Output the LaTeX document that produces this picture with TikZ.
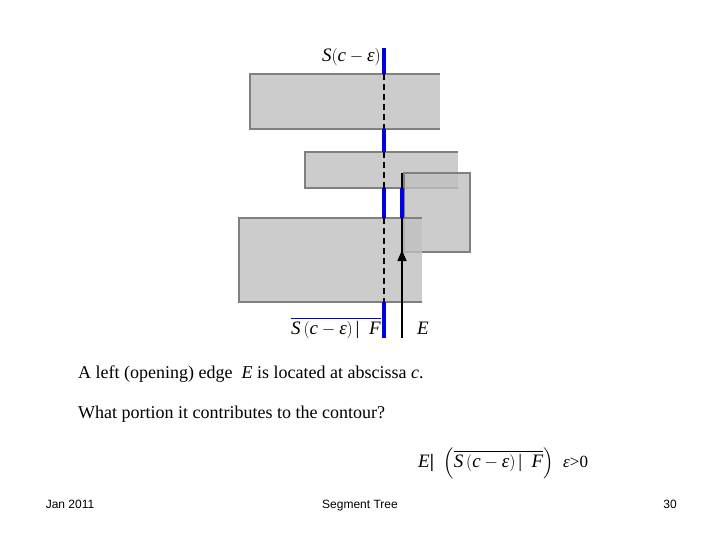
\documentclass[tikz,border=0pt]{standalone}
\usepackage{amsmath}
\usepackage{fontspec}
\setmainfont{Liberation Serif}
\newfontfamily\arial{Liberation Sans}
\usetikzlibrary{arrows.meta}
\begin{document}
\begin{tikzpicture}[x=1pt,y=-1pt,
  rectfill/.style={fill=black!25,fill opacity=0.8},
  rectedge/.style={draw=black!50,line width=2.5pt},
  blueline/.style={blue!90!black,line width=4pt},
  dashline/.style={black,line width=2.5pt,dash pattern=on 6pt off 4pt},
  lbl/.style={font=\fontsize{19}{21}\selectfont,inner sep=0pt},
  body/.style={font=\fontsize{18}{20}\selectfont,anchor=base west,inner sep=0pt},
  foot/.style={font=\arial\fontsize{12}{14}\selectfont,inner sep=0pt,anchor=base}]
\useasboundingbox (0,0) rectangle (720,540);
% rectangles
\fill[rectfill] (250,74) rectangle (440,129);
\draw[rectedge] (440,74) -- (250,74) -- (250,129) -- (440,129);
\fill[rectfill] (305,152) rectangle (458,188);
\draw[rectedge] (458,152) -- (305,152) -- (305,188) -- (458,188);
\fill[rectfill] (404,173) rectangle (470,252);
\draw[rectedge] (404,173) rectangle (470,252);
\fill[rectfill] (239,218) rectangle (422,302);
\draw[rectedge] (422,218) -- (239,218) -- (239,302) -- (422,302);
% sweep line
\draw[blueline] (384,48) -- (384,74) (384,129) -- (384,152) (384,188) -- (384,218) (384,302) -- (384,338);
\draw[dashline] (384,74) -- (384,129);
\draw[dashline] (384,152) -- (384,188);
\draw[dashline] (384,218) -- (384,302);
% edge E
\coordinate (e0) at (402,338);
\coordinate (e1) at (402,173);
\coordinate (ea) at (402,250);
\draw[black,line width=1.5pt] (e0) -- (e1);
\draw[black,line width=1.5pt,-{Triangle[length=11pt,width=9pt]}] (e0) -- (ea);
\draw[blueline] (402,188) -- (402,218);
% labels
\node[lbl,anchor=east] (top) at (381,57) {\textit{S}$\left(\text{\textit{c}}-\text{\textit{ε}}\right)$};
\node[lbl,anchor=east] (bot) at (381,328) {$\color{blue!80!black}\overline{\color{black}\text{\textit{S}}\left(\text{\textit{c}}-\text{\textit{ε}}\right)\text{| \ \textit{F}}}$};
\node[lbl,anchor=west] (E) at (417,328) {\textit{E}};
\node[body] (l1) at (78,378) {A left (opening) edge \ \textit{E} is located at abscissa \textit{c}.};
\node[body] (l2) at (78,418) {What portion it contributes to the contour?};
\node[lbl,anchor=west] (f) at (418,463) {\textit{E}\textbf{|}\ \ $\Bigl(\overline{\text{\textit{S}}\left(\text{\textit{c}}-\text{\textit{ε}}\right)\text{| \ \textit{F}}}\Bigr)$\ \ {\fontsize{17}{18}\selectfont\textit{ε}>0}};
\node[foot] (d) at (70,508) {Jan 2011};
\node[foot] (s) at (360,508) {Segment Tree};
\node[foot] (p) at (670,508) {30};
\end{tikzpicture}
\end{document}
